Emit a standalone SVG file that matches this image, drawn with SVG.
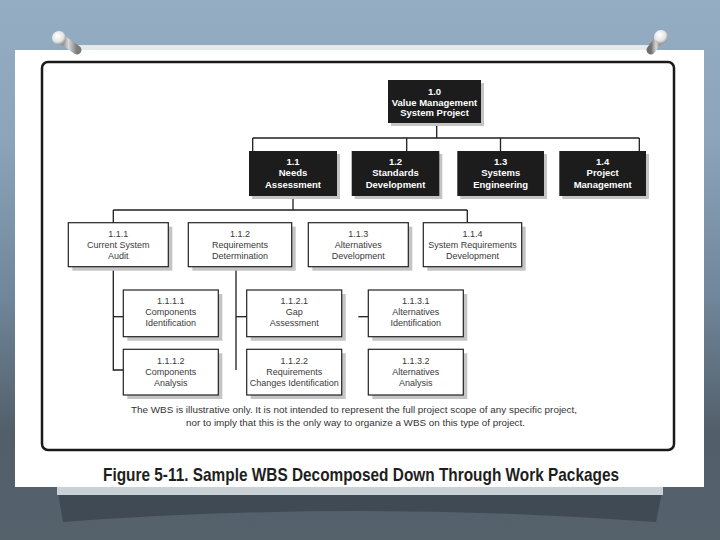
<svg xmlns="http://www.w3.org/2000/svg" width="720" height="540" viewBox="0 0 720 540">
<defs>
<linearGradient id="bg" x1="0" y1="0" x2="0" y2="1">
<stop offset="0" stop-color="#94adc3"/>
<stop offset="0.25" stop-color="#8ca5bb"/>
<stop offset="0.55" stop-color="#70869a"/>
<stop offset="0.8" stop-color="#525f6a"/>
<stop offset="1" stop-color="#55626c"/>
</linearGradient>
<radialGradient id="knob" cx="0.4" cy="0.35" r="0.7">
<stop offset="0" stop-color="#ffffff"/>
<stop offset="0.6" stop-color="#e4e4e4"/>
<stop offset="1" stop-color="#8a8a8a"/>
</radialGradient>
<linearGradient id="stem" x1="0" y1="0" x2="1" y2="0">
<stop offset="0" stop-color="#6e6e6e"/>
<stop offset="0.5" stop-color="#d8d8d8"/>
<stop offset="1" stop-color="#7a7a7a"/>
</linearGradient>
<style>
.blk{fill:#1c1c1c}
.shd{fill:#c4c4c4}
.wbox{fill:#ffffff;stroke:#222222;stroke-width:1.2}
.tb{font-family:"Liberation Sans",Arial,sans-serif;font-weight:bold;font-size:9.5px;fill:#ffffff;text-anchor:middle}
.tr{font-family:"Liberation Sans",Arial,sans-serif;font-size:9px;fill:#3a3a3a;text-anchor:middle}
.conn path{stroke:#1e1e1e;stroke-width:1.3;fill:none}
.note{font-family:"Liberation Sans",Arial,sans-serif;font-size:9px;fill:#333333}
.cap{font-family:"Liberation Sans",Arial,sans-serif;font-weight:bold;font-size:18.5px;fill:#1e1e1e}
</style>
</defs>

<!-- background -->
<rect x="0" y="0" width="720" height="540" fill="url(#bg)"/>
<path d="M57,487 L663,487 L656,522 Q360,500 63,522 Z" fill="#3f4a54"/>
<rect x="57" y="487" width="606" height="8" fill="#c9d0d6"/>

<!-- paper -->
<rect x="70" y="45" width="582" height="6" fill="#e6e9ec"/>
<rect x="15" y="50" width="689" height="437" fill="#ffffff"/>

<!-- pins -->
<g id="pin-left">
<path d="M60,38 L77,50" stroke="url(#stem)" stroke-width="9" stroke-linecap="round"/>
<circle cx="59" cy="38" r="7" fill="url(#knob)"/>
</g>
<g id="pin-right">
<path d="M661,37 L651,50" stroke="url(#stem)" stroke-width="9" stroke-linecap="round"/>
<circle cx="661" cy="37" r="7" fill="url(#knob)"/>
</g>

<!-- frame -->
<rect x="42" y="62" width="632" height="388" rx="6" fill="#ffffff" stroke="#1a1a1a" stroke-width="2.5"/>

<!-- connectors -->
<g id="connectors" class="conn">
<path d="M436.7,123 V138"/>
<path d="M252.7,138 H639.3"/>
<path d="M252.7,138 V151"/>
<path d="M406.7,138 V151"/>
<path d="M500.5,138 V151"/>
<path d="M639.3,138 V151"/>
<path d="M293,196 V210"/>
<path d="M113.3,210 H467.3"/>
<path d="M113.3,210 V222.7"/>
<path d="M467.3,210 V222.7"/>
<path d="M113.3,267 V370 H123.3"/>
<path d="M113.3,316.7 H123.3"/>
<path d="M236,267 V370"/>
<path d="M236,316.7 H246.7"/>
<path d="M358.3,316.7 H368.3"/>
</g>

<!-- level 0 -->
<g id="n1_0">
<rect class="shd" x="391" y="83" width="93" height="43"/>
<rect class="blk" x="388" y="80" width="93" height="43"/>
<text class="tb" x="434.5" y="95" font-size="9">1.0</text>
<text class="tb" x="434.5" y="105.5" font-size="9">Value Management</text>
<text class="tb" x="434.5" y="116" font-size="9">System Project</text>
</g>

<!-- level 1 -->
<g id="n1_1">
<rect class="shd" x="252" y="154" width="88" height="45"/>
<rect class="blk" x="249" y="151" width="88" height="45"/>
<text class="tb" x="293" y="164.5">1.1</text>
<text class="tb" x="293" y="176">Needs</text>
<text class="tb" x="293" y="187.5">Assessment</text>
</g>
<g id="n1_2">
<rect class="shd" x="354.7" y="154" width="87.6" height="45"/>
<rect class="blk" x="351.7" y="151" width="87.6" height="45"/>
<text class="tb" x="395.5" y="164.5">1.2</text>
<text class="tb" x="395.5" y="176">Standards</text>
<text class="tb" x="395.5" y="187.5">Development</text>
</g>
<g id="n1_3">
<rect class="shd" x="460.3" y="154" width="86.7" height="45"/>
<rect class="blk" x="457.3" y="151" width="86.7" height="45"/>
<text class="tb" x="500.7" y="164.5">1.3</text>
<text class="tb" x="500.7" y="176">Systems</text>
<text class="tb" x="500.7" y="187.5">Engineering</text>
</g>
<g id="n1_4">
<rect class="shd" x="562.3" y="154" width="86.7" height="45"/>
<rect class="blk" x="559.3" y="151" width="86.7" height="45"/>
<text class="tb" x="602.7" y="164.5">1.4</text>
<text class="tb" x="602.7" y="176">Project</text>
<text class="tb" x="602.7" y="187.5">Management</text>
</g>

<!-- level 2 -->
<g id="n1_1_1">
<rect class="shd" x="72.3" y="226.7" width="100" height="44"/>
<rect class="wbox" x="68.3" y="222.7" width="100" height="44"/>
<text class="tr" x="118.3" y="236.5">1.1.1</text>
<text class="tr" x="118.3" y="247.5">Current System</text>
<text class="tr" x="118.3" y="258.7">Audit</text>
</g>
<g id="n1_1_2">
<rect class="shd" x="192.3" y="226.7" width="103.4" height="44"/>
<rect class="wbox" x="188.3" y="222.7" width="103.4" height="44"/>
<text class="tr" x="240" y="236.5">1.1.2</text>
<text class="tr" x="240" y="247.5">Requirements</text>
<text class="tr" x="240" y="258.7">Determination</text>
</g>
<g id="n1_1_3">
<rect class="shd" x="312.3" y="226.7" width="100" height="44"/>
<rect class="wbox" x="308.3" y="222.7" width="100" height="44"/>
<text class="tr" x="358.3" y="236.5">1.1.3</text>
<text class="tr" x="358.3" y="247.5">Alternatives</text>
<text class="tr" x="358.3" y="258.7">Development</text>
</g>
<g id="n1_1_4">
<rect class="shd" x="427.3" y="226.7" width="98.4" height="44"/>
<rect class="wbox" x="423.3" y="222.7" width="98.4" height="44"/>
<text class="tr" x="472.5" y="236.5">1.1.4</text>
<text class="tr" x="472.5" y="247.5">System Requirements</text>
<text class="tr" x="472.5" y="258.7">Development</text>
</g>

<!-- level 3 -->
<g id="n1_1_1_1">
<rect class="shd" x="127.3" y="294" width="95" height="46.7"/>
<rect class="wbox" x="123.3" y="290" width="95" height="46.7"/>
<text class="tr" x="170.8" y="304">1.1.1.1</text>
<text class="tr" x="170.8" y="315">Components</text>
<text class="tr" x="170.8" y="326">Identification</text>
</g>
<g id="n1_1_1_2">
<rect class="shd" x="127.3" y="353.3" width="95" height="45.7"/>
<rect class="wbox" x="123.3" y="349.3" width="95" height="45.7"/>
<text class="tr" x="170.8" y="363.7">1.1.1.2</text>
<text class="tr" x="170.8" y="374.7">Components</text>
<text class="tr" x="170.8" y="385.7">Analysis</text>
</g>
<g id="n1_1_2_1">
<rect class="shd" x="250.7" y="294" width="95" height="46.7"/>
<rect class="wbox" x="246.7" y="290" width="95" height="46.7"/>
<text class="tr" x="294.2" y="304">1.1.2.1</text>
<text class="tr" x="294.2" y="315">Gap</text>
<text class="tr" x="294.2" y="326">Assessment</text>
</g>
<g id="n1_1_2_2">
<rect class="shd" x="250.7" y="353.3" width="95" height="45.7"/>
<rect class="wbox" x="246.7" y="349.3" width="95" height="45.7"/>
<text class="tr" x="294.2" y="363.7">1.1.2.2</text>
<text class="tr" x="294.2" y="374.7">Requirements</text>
<text class="tr" x="294.2" y="385.7">Changes Identification</text>
</g>
<g id="n1_1_3_1">
<rect class="shd" x="372.3" y="294" width="95" height="46.7"/>
<rect class="wbox" x="368.3" y="290" width="95" height="46.7"/>
<text class="tr" x="415.8" y="304">1.1.3.1</text>
<text class="tr" x="415.8" y="315">Alternatives</text>
<text class="tr" x="415.8" y="326">Identification</text>
</g>
<g id="n1_1_3_2">
<rect class="shd" x="372.3" y="353.3" width="95" height="45.7"/>
<rect class="wbox" x="368.3" y="349.3" width="95" height="45.7"/>
<text class="tr" x="415.8" y="363.7">1.1.3.2</text>
<text class="tr" x="415.8" y="374.7">Alternatives</text>
<text class="tr" x="415.8" y="385.7">Analysis</text>
</g>

<!-- note -->
<text class="note" x="131" y="412.5" textLength="446" lengthAdjust="spacingAndGlyphs">The WBS is illustrative only. It is not intended to represent the full project scope of any specific project,</text>
<text class="note" x="186" y="425.5" textLength="339" lengthAdjust="spacingAndGlyphs">nor to imply that this is the only way to organize a WBS on this type of project.</text>

<!-- caption -->
<text class="cap" x="103" y="481" textLength="516" lengthAdjust="spacingAndGlyphs">Figure 5-11. Sample WBS Decomposed Down Through Work Packages</text>
</svg>
